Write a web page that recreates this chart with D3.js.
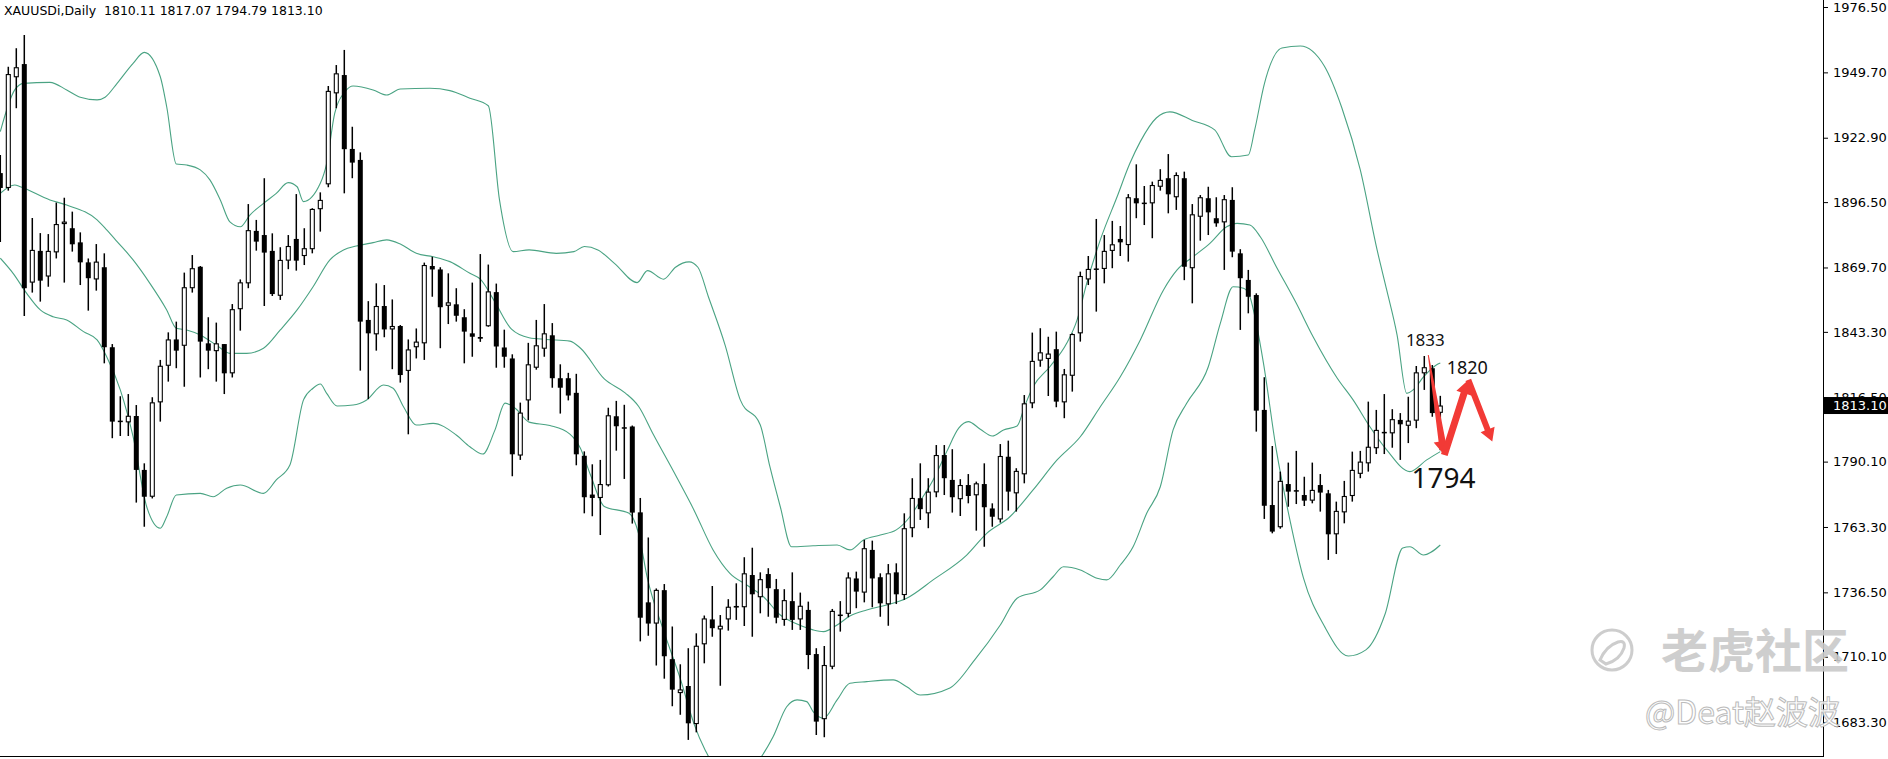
<!DOCTYPE html>
<html>
<head>
<meta charset="utf-8">
<script src="https://cdn.jsdelivr.net/npm/d3@7"></script>
<style>
  body { margin: 0; background: #fff; overflow: hidden; }
  svg { display: block; }
</style>
</head>
<body>
<script>
// daily XAUUSD candles, oldest first
const opens = [1908.4,1902.3,1947.7,1953.1,1863.5,1876.5,1866.0,1875.9,1887.5,1885.8,
  1880.0,1871.8,1864.8,1869.8,1837.0,1806.9,1806.2,1808.8,1786.7,1775.7,
  1814.4,1829.4,1840.2,1837.6,1861.2,1870.0,1838.6,1835.4,1838.3,1826.3,
  1852.6,1863.2,1884.7,1883.0,1876.5,1858.1,1872.5,1881.4,1874.4,1877.2,
  1893.6,1903.8,1941.1,1948.6,1918.3,1913.8,1848.2,1842.3,1853.9,1844.3,
  1845.7,1827.3,1837.0,1838.6,1870.3,1868.9,1854.0,1854.6,1849.3,1842.7,
  1841.2,1845.6,1859.6,1836.9,1832.4,1792.6,1815.2,1828.6,1836.4,1841.9,
  1824.3,1824.3,1818.3,1792.5,1776.6,1775.2,1780.4,1808.7,1804.2,1804.5,
  1769.3,1732.4,1723.7,1737.4,1709.1,1695.2,1698.1,1682.5,1715.2,1725.4,
  1721.3,1725.4,1730.6,1730.4,1743.6,1734.5,1744.0,1737.8,1725.2,1732.9,
  1725.4,1729.3,1711.2,1684.5,1706.0,1727.4,1727.7,1742.2,1736.4,1753.9,
  1742.7,1731.6,1744.7,1735.4,1762.8,1775.1,1768.9,1777.5,1792.8,1782.6,
  1774.7,1780.5,1776.3,1780.9,1770.9,1766.4,1792.1,1777.1,1784.9,1814.0,
  1831.5,1832.2,1836.2,1814.4,1825.3,1842.7,1864.8,1869.3,1869.1,1876.5,
  1881.4,1878.9,1898.1,1896.3,1896.0,1902.8,1906.3,1898.5,1906.3,1869.4,
  1890.5,1898.1,1889.9,1888.2,1897.4,1875.5,1864.6,1858.4,1811.3,1772.3,
  1763.2,1780.9,1778.4,1776.4,1774.1,1780.5,1777.1,1760.3,1769.3,1776.0,
  1785.1,1789.4,1795.6,1802.3,1801.7,1807.2,1804.8,1806.9,1826.3,1828.4,
  1810.11];
const highs = [1915.8,1952.0,1959.6,1965.0,1890.0,1883.8,1883.4,1896.3,1898.3,1892.6,
  1884.1,1873.4,1879.3,1875.5,1838.3,1816.9,1817.8,1813.3,1789.4,1816.5,
  1831.8,1843.1,1847.5,1867.6,1874.8,1870.3,1849.3,1847.1,1838.3,1854.7,
  1864.8,1895.7,1889.2,1906.3,1883.7,1878.0,1883.0,1899.8,1885.8,1894.0,
  1900.5,1944.1,1952.7,1958.9,1927.4,1916.9,1855.9,1863.2,1862.5,1856.6,
  1846.1,1840.2,1844.7,1871.7,1874.1,1869.8,1867.3,1861.2,1852.6,1863.5,
  1875.2,1870.9,1863.1,1844.2,1834.1,1814.3,1838.8,1848.2,1854.7,1846.9,
  1830.0,1826.5,1826.1,1794.3,1789.0,1790.8,1812.2,1815.0,1813.4,1804.9,
  1775.2,1759.0,1738.1,1739.9,1722.5,1707.0,1713.6,1719.7,1727.0,1739.1,
  1727.2,1733.7,1740.2,1750.9,1754.8,1744.7,1746.4,1742.0,1737.8,1744.7,
  1736.4,1732.7,1713.6,1714.5,1729.7,1732.9,1744.7,1745.0,1758.0,1757.7,
  1744.3,1748.1,1748.4,1768.9,1783.3,1789.4,1783.3,1796.9,1796.9,1795.2,
  1782.9,1785.0,1781.9,1789.4,1773.0,1797.3,1798.7,1787.4,1817.4,1843.0,
  1844.8,1841.3,1843.4,1828.1,1842.7,1868.0,1874.4,1889.6,1883.0,1888.8,
  1886.7,1899.8,1912.0,1903.1,1904.9,1910.0,1916.2,1908.7,1909.0,1895.7,
  1899.4,1902.8,1898.5,1899.4,1902.6,1877.2,1868.7,1859.1,1824.7,1796.5,
  1786.0,1789.7,1794.5,1783.9,1789.7,1785.0,1778.5,1773.7,1782.2,1794.2,
  1794.5,1814.7,1811.3,1817.8,1811.6,1810.0,1816.7,1829.3,1833.4,1829.7,
  1817.07];
const lows = [1880.1,1901.2,1935.0,1849.8,1859.4,1855.7,1861.8,1873.4,1863.5,1876.2,
  1862.5,1852.0,1860.2,1830.4,1799.7,1800.6,1800.6,1773.3,1763.4,1775.0,
  1806.5,1822.9,1828.4,1820.8,1859.4,1824.6,1828.0,1822.9,1817.8,1824.6,
  1843.8,1861.2,1876.6,1853.9,1858.0,1856.4,1869.0,1868.4,1870.7,1875.5,
  1884.4,1902.6,1935.0,1900.1,1906.3,1827.4,1815.7,1835.6,1841.1,1828.0,
  1822.5,1801.3,1832.4,1831.8,1857.7,1836.6,1846.5,1847.5,1830.4,1833.1,
  1839.2,1845.4,1828.6,1828.6,1784.1,1790.8,1807.0,1827.8,1833.1,1820.4,
  1809.8,1815.2,1788.6,1768.9,1767.7,1760.0,1779.9,1794.6,1783.0,1764.7,
  1716.4,1718.7,1706.5,1701.1,1689.8,1686.3,1676.0,1679.1,1707.4,1718.3,
  1698.2,1720.8,1725.2,1722.7,1718.3,1727.9,1726.5,1723.8,1722.8,1721.1,
  1721.1,1705.0,1678.0,1677.1,1705.0,1720.4,1726.3,1730.0,1732.4,1730.4,
  1726.5,1722.8,1731.7,1733.4,1759.1,1766.2,1762.8,1775.5,1776.4,1769.2,
  1767.8,1773.0,1761.8,1755.2,1763.4,1765.1,1770.0,1769.6,1781.2,1812.0,
  1829.0,1817.0,1812.4,1807.9,1818.8,1839.3,1862.5,1851.6,1863.2,1869.4,
  1874.4,1872.1,1889.9,1887.1,1881.7,1901.2,1891.9,1893.3,1864.5,1855.0,
  1880.7,1883.0,1886.4,1868.7,1873.9,1844.1,1850.9,1802.4,1766.6,1760.7,
  1762.6,1771.6,1772.7,1771.9,1773.0,1769.6,1749.8,1752.2,1764.8,1773.7,
  1783.3,1786.0,1793.2,1793.2,1795.8,1790.8,1797.7,1803.8,1819.5,1808.5,
  1794.79];
const closes = [1902.3,1949.0,1951.8,1861.2,1876.9,1864.3,1876.5,1887.5,1888.5,1879.2,
  1871.8,1865.3,1872.1,1837.0,1806.5,1806.5,1808.9,1786.7,1775.7,1814.4,
  1829.4,1840.2,1835.6,1861.6,1869.4,1839.3,1835.6,1838.6,1826.3,1852.6,
  1863.6,1885.0,1880.3,1875.8,1858.8,1872.8,1878.5,1872.5,1877.6,1893.7,
  1897.4,1942.1,1949.3,1918.2,1912.7,1847.5,1842.7,1853.9,1844.3,1845.7,
  1825.6,1836.1,1839.3,1870.7,1868.9,1853.4,1855.4,1849.9,1843.4,1841.3,
  1840.5,1859.9,1837.3,1833.1,1793.1,1810.2,1830.0,1837.8,1842.7,1824.3,
  1820.4,1817.2,1793.1,1775.5,1775.2,1780.9,1809.1,1804.6,1803.8,1769.2,
  1726.1,1723.7,1737.5,1710.3,1696.6,1696.7,1682.8,1714.6,1725.8,1721.8,
  1722.8,1730.6,1730.9,1744.3,1735.7,1741.9,1738.2,1726.1,1733.3,1725.2,
  1731.0,1710.8,1683.5,1706.7,1728.9,1727.0,1742.6,1736.8,1754.6,1742.2,
  1732.0,1744.3,1735.7,1762.8,1775.2,1770.6,1777.8,1792.8,1783.3,1775.5,
  1780.5,1776.0,1781.2,1771.4,1767.5,1792.4,1777.8,1786.3,1814.0,1831.4,
  1834.9,1834.4,1814.7,1825.9,1842.4,1866.2,1869.1,1868.8,1876.5,1879.2,
  1880.0,1898.5,1896.0,1895.7,1903.5,1905.6,1899.7,1907.6,1870.0,1891.5,
  1898.5,1892.3,1887.8,1897.7,1876.2,1865.3,1857.7,1811.0,1772.0,1761.4,
  1782.2,1777.8,1778.0,1774.1,1778.5,1777.4,1760.3,1769.9,1776.0,1786.7,
  1790.1,1796.2,1803.1,1801.8,1807.5,1805.4,1806.9,1826.7,1828.8,1810.0,
  1813.10];

// Bollinger bands: [bar index, price]
const upperBand = [[0,1925.4],[1.8,1942.5],[2.9,1945.2],[6.2,1945.6],[8.3,1942.5],[10,1939.5],
  [12.1,1938.4],[13.1,1939.5],[14.6,1945.2],[16.6,1953.4],[18,1957.9],[20,1947.9],[20.8,1935.6],
  [22,1912.1],[23.3,1911.7],[25,1909.7],[26.2,1905.6],[27.5,1897.4],[28.7,1888.4],[30,1886.4],
  [31.2,1891.2],[32.9,1896.0],[34.5,1900.1],[36,1904.5],[37.1,1902.8],[37.9,1896.7],[40,1904.2],
  [40.8,1912.4],[41.8,1932.9],[43.1,1941.8],[44.1,1944.1],[46.6,1942.5],[48.3,1940.4],[50,1942.9],
  [53.7,1943.2],[56.2,1942.2],[58.7,1939.1],[61,1936.0],[62.4,1897.4],[64.1,1876.2],[66.1,1876.9],
  [69.5,1875.5],[71.7,1876.2],[73,1878.3],[74.7,1876.9],[76.8,1871.3],[79.6,1863.5],[80.9,1868.4],
  [82.9,1864.9],[84.4,1869.8],[86.1,1872.0],[87.2,1869.8],[88.5,1857.8],[90.6,1837.9],[92.5,1815.4],
  [95,1805.1],[96.2,1788.0],[97.5,1771.6],[98.9,1755.2],[101.6,1755.6],[104.6,1755.9],[106.2,1753.9],
  [107.9,1758.0],[110,1760.0],[112,1762.1],[113.7,1767.5],[115,1774.0],[116.6,1782.6],[118.3,1794.2],
  [119.8,1803.8],[121,1806.5],[122.5,1803.4],[124,1800.6],[125.4,1803.1],[127.1,1804.7],[128.1,1813.3],
  [129.1,1820.8],[131.2,1829.0],[133.3,1838.6],[134.6,1848.2],[135.8,1863.2],[137.5,1881.0],
  [139.6,1898.7],[141.2,1912.4],[142.5,1921.3],[144.5,1931.0],[146.2,1933.5],[149,1930.0],
  [151.8,1926.1],[153.9,1915.1],[156,1915.8],[156.8,1926.1],[158,1944.9],[160.2,1959.7],
  [162.5,1960.5],[165.5,1952.3],[167.7,1935.1],[170,1909.7],[172.1,1876.9],[173.3,1860.5],
  [174.6,1842.0],[175.8,1818.1],[176.6,1819.5],[177.9,1824.8],[179.5,1829.7],[180,1830.5]];
const middleBand = [[0,1900.1],[1.8,1903.5],[2.5,1902.8],[6.2,1897.4],[8.3,1895.3],[12.1,1889.2],
  [13.3,1885.1],[14.6,1880.3],[16.6,1872.8],[18.7,1863.2],[20.8,1852.3],[22,1844.8],[23.3,1844.1],
  [25,1842.0],[27,1837.9],[28.7,1834.5],[30.8,1834.5],[32.9,1836.6],[35,1844.1],[37.1,1852.3],
  [39.1,1861.8],[41.2,1872.8],[42.9,1876.9],[44.5,1878.5],[46.6,1879.9],[48.3,1881.0],[50,1879.3],
  [52,1875.5],[54.1,1874.1],[56.2,1872.1],[58.7,1867.3],[60,1864.9],[61.8,1855.7],[63.9,1844.4],
  [66.1,1840.9],[68.2,1840.2],[71.2,1839.5],[72.5,1836.7],[75.5,1824.0],[78.1,1818.3],[79.8,1812.7],
  [81.6,1801.4],[84.2,1785.8],[86.7,1770.3],[89.1,1753.9],[91.2,1744.3],[93.3,1739.5],[95.4,1734.7],
  [97.5,1727.2],[99.6,1723.5],[101.6,1721.1],[102.9,1720.4],[104.6,1723.1],[106.2,1726.8],
  [108.3,1729.3],[110.8,1731.3],[113.3,1734.1],[116.6,1741.6],[120.8,1751.8],[123.3,1760.7],
  [126.2,1767.5],[129.1,1778.5],[132.1,1790.8],[135,1800.3],[137.5,1812.6],[140,1824.9],
  [142.5,1840.0],[145.4,1860.5],[147.1,1868.7],[149.1,1874.1],[151.2,1879.6],[153.3,1886.4],
  [154.6,1887.8],[156.2,1887.1],[157.5,1882.3],[159.5,1870.0],[162,1855.0],[164.1,1841.3],
  [167.1,1824.4],[169.1,1815.4],[171.2,1804.4],[173.3,1794.9],[176.2,1786.0],[178.3,1790.8],[180,1794.2]];
const lowerBand = [[0,1873.5],[1.6,1867.3],[3.3,1859.1],[5,1852.3],[6.6,1849.5],[8.3,1848.2],
  [10.4,1843.4],[12.1,1840.0],[13.3,1833.1],[15,1819.5],[16.6,1800.3],[18.3,1771.6],[20,1762.8],
  [20.8,1767.5],[22,1776.4],[25,1777.1],[26.6,1775.7],[28.3,1779.2],[30,1780.5],[32.9,1777.1],
  [34.5,1782.6],[36.2,1788.7],[37.9,1815.4],[39.1,1820.2],[40,1821.9],[40.8,1818.1],[42.1,1812.9],
  [44.1,1813.3],[45.8,1815.4],[47.9,1821.5],[49.1,1820.2],[50.4,1812.6],[52,1805.1],[54.1,1805.8],
  [57,1801.0],[58.7,1796.2],[60.3,1793.2],[61.8,1802.8],[63.1,1814.1],[64.4,1811.9],[66.1,1806.3],
  [68.7,1804.9],[71.2,1801.4],[72.5,1795.7],[73.8,1784.4],[75.5,1771.7],[78.6,1768.9],[79.8,1760.4],
  [80.9,1742.1],[82.9,1720.9],[85,1701.1],[86.7,1682.7],[88.1,1671.9],[90,1663.0],[93.1,1662.0],
  [95,1668.5],[96.6,1677.3],[98.3,1689.6],[99.6,1692.4],[100.8,1691.7],[101.6,1687.6],[102.9,1684.9],
  [104.6,1692.4],[106.2,1699.2],[108.3,1699.9],[111.6,1700.6],[113.3,1697.8],[115,1694.4],
  [118.7,1697.3],[121.8,1708.8],[125,1723.1],[127.1,1734.1],[130,1737.5],[131.6,1742.9],
  [132.9,1747.0],[135,1745.7],[137.1,1742.3],[138.3,1741.6],[140,1747.7],[141.6,1755.2],
  [143.3,1768.9],[145,1779.8],[146.6,1803.1],[148.3,1814.0],[151,1829.0],[152.5,1846.8],
  [154.1,1861.8],[155.4,1861.2],[156.2,1857.7],[157,1846.8],[157.9,1830.4],[159.5,1794.9],
  [161.2,1766.2],[162.9,1742.3],[165.5,1722.7],[168.5,1710.4],[170.7,1712.9],[173.1,1727.6],
  [175.3,1754.7],[176.2,1755.2],[177.9,1751.8],[180,1755.9]];

const priceTicks = [1976.5,1949.7,1922.9,1896.5,1869.7,1843.3,1816.5,1790.1,1763.3,1736.5,1710.1,1683.3];

// forecast zig-zag drawn on the chart
const zigIdx = [178.5, 180.5, 183.5, 186.5];
const zigPrice = [1833.8, 1792.8, 1823.6, 1798.3];
const noteText = ["1833", "1820", "1794"];
const noteIdx = [175.7, 180.8, 176.4];
const notePrice = [1837.4, 1825.9, 1779.3];
const noteSize = [17, 18, 28];

const lastPrice = 1813.10;
const title = "XAUUSDi,Daily  1810.11 1817.07 1794.79 1813.10";

const width = 1888, height = 759;
const plotW = 1823, plotH = 757;

const svg = d3.select("body").append("svg")
    .attr("width", width)
    .attr("height", height);

const x = d3.scaleLinear().domain([0, 180]).range([0.3, 1440.3]);
const y = d3.scaleLinear().domain([1976.5, 1683.3]).range([7, 722.1]);

svg.append("defs").append("clipPath").attr("id", "plot")
  .append("rect").attr("width", plotW).attr("height", plotH);

const g = svg.append("g").attr("clip-path", "url(#plot)");

// bands
const bandLine = d3.line()
    .x(d => x(d[0]))
    .y(d => y(d[1]))
    .curve(d3.curveMonotoneX);

[upperBand, middleBand, lowerBand].forEach(b => {
  g.append("path")
    .attr("d", bandLine(b))
    .attr("fill", "none")
    .attr("stroke", "#4aa383")
    .attr("stroke-width", 1.1);
});

// candles
const bars = opens.map((o, i) => ({i, o, h: highs[i], l: lows[i], c: closes[i]}));

g.selectAll(".wick")
  .data(bars)
  .enter()
  .append("line")
    .attr("class", "wick")
    .attr("x1", d => x(d.i)).attr("x2", d => x(d.i))
    .attr("y1", d => y(d.h)).attr("y2", d => y(d.l))
    .attr("stroke", "#000")
    .attr("stroke-width", 1.5);

g.selectAll(".body")
  .data(bars)
  .enter()
  .append("rect")
    .attr("class", "body")
    .each(function(d) {
      const up = d.c >= d.o;
      const top = y(Math.max(d.o, d.c)), bot = y(Math.min(d.o, d.c));
      const r = d3.select(this);
      if (up) {
        r.attr("x", x(d.i) - 2).attr("width", 4)
          .attr("y", top + 0.5).attr("height", Math.max(0.5, bot - top - 1))
          .attr("fill", "#fff").attr("stroke", "#000").attr("stroke-width", 1.1);
      } else {
        r.attr("x", x(d.i) - 2.5).attr("width", 5)
          .attr("y", top).attr("height", Math.max(1.5, bot - top))
          .attr("fill", "#000");
      }
    });

// red forecast arrows
function arrowPath(p0, p1, w0, w1, headW, headL) {
  const dx = p1[0] - p0[0], dy = p1[1] - p0[1];
  const len = Math.hypot(dx, dy);
  const ux = dx / len, uy = dy / len, nx = -uy, ny = ux;
  const bx = p1[0] - ux * headL, by = p1[1] - uy * headL;
  const pts = [
    [p0[0] + nx * w0 / 2, p0[1] + ny * w0 / 2],
    [bx + nx * w1 / 2, by + ny * w1 / 2],
    [bx + nx * headW / 2, by + ny * headW / 2],
    p1,
    [bx - nx * headW / 2, by - ny * headW / 2],
    [bx - nx * w1 / 2, by - ny * w1 / 2],
    [p0[0] - nx * w0 / 2, p0[1] - ny * w0 / 2]
  ];
  return "M" + pts.map(p => p[0].toFixed(1) + "," + p[1].toFixed(1)).join("L") + "Z";
}

const zig = zigIdx.map((d, i) => [x(d), y(zigPrice[i])]);
const arrowStyle = [[1, 7, 17, 14], [7, 7, 16, 14], [6, 6, 15, 13]];
for (let k = 0; k < 3; k++) {
  const s = arrowStyle[k];
  g.append("path")
    .attr("d", arrowPath(zig[k], zig[k + 1], s[0], s[1], s[2], s[3]))
    .attr("fill", "#f23a36");
}

// note labels
noteText.forEach((t, i) => {
  svg.append("text")
    .attr("x", x(noteIdx[i]))
    .attr("y", y(notePrice[i]))
    .attr("font-family", "'Noto Sans', 'Open Sans', sans-serif")
    .attr("font-size", noteSize[i])
    .attr("fill", "#111")
    .text(t);
});

// title
svg.append("text")
  .attr("x", 4).attr("y", 15)
  .attr("font-family", "'DejaVu Sans', sans-serif")
  .attr("font-size", 12.5)
  .attr("fill", "#000")
  .attr("xml:space", "preserve")
  .style("white-space", "pre")
  .text(title);

// right price axis
const axis = svg.append("g")
  .attr("transform", `translate(${plotW},0)`)
  .call(d3.axisRight(y).tickValues(priceTicks).tickFormat(d3.format(".2f")).tickSize(5).tickPadding(5));
axis.select(".domain").remove();
axis.selectAll("text")
  .attr("font-family", "'DejaVu Sans', sans-serif")
  .attr("font-size", 13)
  .attr("fill", "#000");
axis.selectAll("line").attr("stroke", "#000");

svg.append("line")
  .attr("x1", plotW + 0.5).attr("x2", plotW + 0.5)
  .attr("y1", 0).attr("y2", plotH)
  .attr("stroke", "#000");
svg.append("line")
  .attr("x1", 0).attr("x2", plotW + 1)
  .attr("y1", plotH - 0.5).attr("y2", plotH - 0.5)
  .attr("stroke", "#000");

// last price marker
svg.append("rect")
  .attr("x", plotW + 1).attr("y", y(lastPrice) - 8.5)
  .attr("width", width - plotW - 1).attr("height", 17)
  .attr("fill", "#000");
svg.append("text")
  .attr("x", plotW + 10).attr("y", y(lastPrice))
  .attr("dy", "0.35em")
  .attr("font-family", "'DejaVu Sans', sans-serif")
  .attr("font-size", 13)
  .attr("fill", "#fff")
  .text(d3.format(".2f")(lastPrice));

// watermark
const wm = svg.append("g").attr("opacity", 0.9);
wm.append("circle")
  .attr("cx", 1612).attr("cy", 650).attr("r", 20)
  .attr("fill", "none").attr("stroke", "#c8c8c8").attr("stroke-width", 3);
wm.append("path")
  .attr("d", "M1600,660 q6,-14 18,-18 q8,-2 6,6 q-4,12 -18,16 z")
  .attr("fill", "none").attr("stroke", "#c8c8c8").attr("stroke-width", 3);
wm.append("text")
  .attr("x", 1661).attr("y", 668)
  .attr("font-family", "'Noto Sans CJK SC', sans-serif")
  .attr("font-size", 47)
  .attr("font-weight", 700)
  .attr("fill", "#c9c9c9")
  .text("老虎社区");
wm.append("text")
  .attr("x", 1645).attr("y", 724)
  .attr("font-family", "'Noto Sans CJK SC', sans-serif")
  .attr("font-size", 32)
  .attr("fill", "#fff")
  .attr("stroke", "#b5b5b5")
  .attr("stroke-width", 1)
  .text("@Deat赵波波");
</script>
</body>
</html>
